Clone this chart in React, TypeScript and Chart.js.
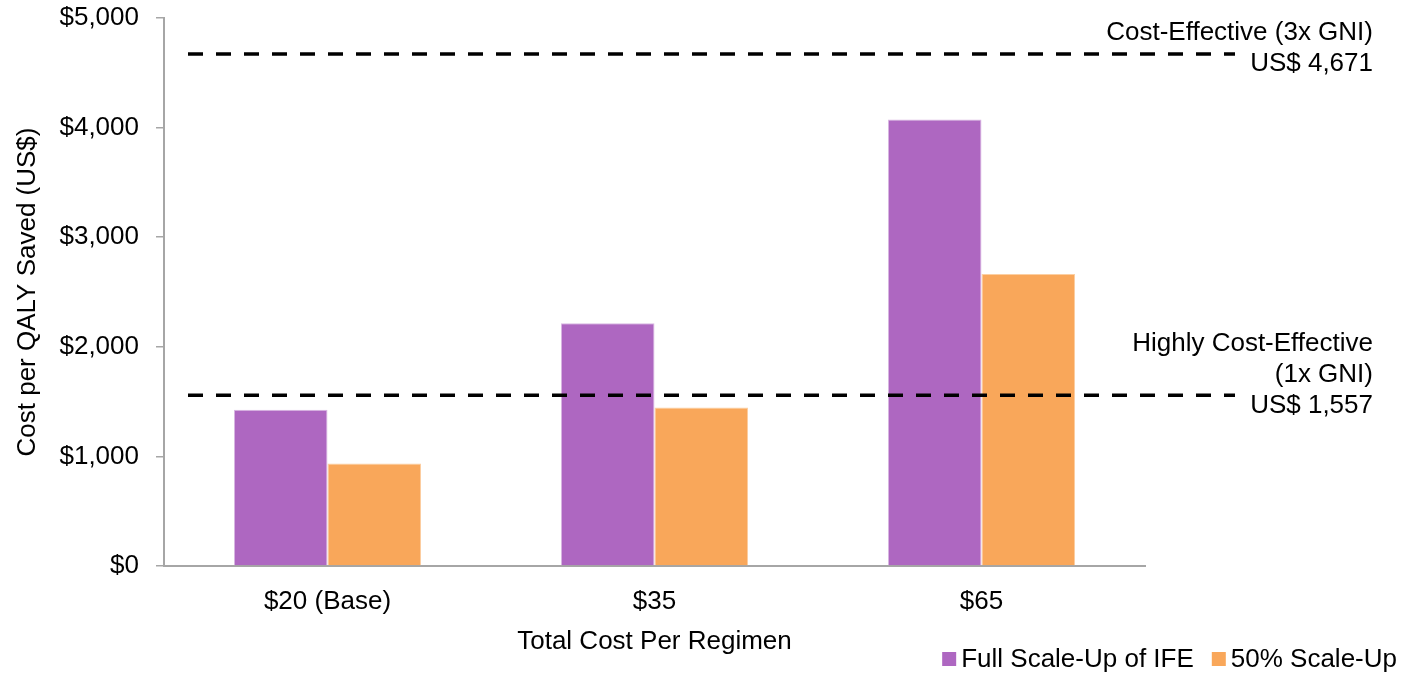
import { useEffect, useRef } from "react";
import { Chart, registerables } from "chart.js";

Chart.register(...registerables);

// Cost per QALY saved by regimen cost, for two scale-up scenarios
const categories = ["$20 (Base)", "$35", "$65"];
const seriesNames = ["Full Scale-Up of IFE", "50% Scale-Up"];
const fullScaleUp = [1425, 2215, 4075];
const halfScaleUp = [935, 1447, 2665];

// Willingness-to-pay thresholds (GNI multiples)
const thresholdValues = [4671, 1557];
const thresholdLabels = [
  ["Cost-Effective (3x GNI)", "US$ 4,671"],
  ["Highly Cost-Effective", "(1x GNI)", "US$ 1,557"],
];

const yMin = 0;
const yMax = 5000;
const yStep = 1000;

const FONT_FAMILY = '"Liberation Sans", Arial, Helvetica, sans-serif';
const FONT_SIZE = 26;
const AXIS_GRAY = "#A6A6A6";
const PURPLE = "#AE67C1";
const ORANGE = "#F9A75A";

const formatDollars = (v: number) => "$" + Number(v).toLocaleString("en-US");

// Dashed threshold lines with right-aligned stacked captions
const thresholdPlugin = {
  id: "thresholdLines",
  afterDatasetsDraw(chart: any) {
    const { ctx, chartArea, scales } = chart;
    const yScale = scales.y;
    ctx.save();
    thresholdValues.forEach((value, i) => {
      const y = yScale.getPixelForValue(value);
      ctx.beginPath();
      ctx.setLineDash([15, 13]);
      ctx.lineWidth = 3.5;
      ctx.strokeStyle = "#000";
      ctx.moveTo(chartArea.left + 24, y);
      ctx.lineTo(chartArea.right + 90, y);
      ctx.stroke();
      ctx.setLineDash([]);

      const lines = thresholdLabels[i];
      ctx.font = `${FONT_SIZE}px ${FONT_FAMILY}`;
      ctx.fillStyle = "#000";
      ctx.textAlign = "right";
      ctx.textBaseline = "middle";
      const xText = chartArea.right + 228;
      const lastY = y + 10;
      lines.forEach((line, j) => {
        const offset = (lines.length - 1 - j) * 31;
        ctx.fillText(line, xText, lastY - offset);
      });
    });
    ctx.restore();
  },
};

// Legend drawn in the bottom-right corner from the dataset labels/colours
const cornerLegendPlugin = {
  id: "cornerLegend",
  afterDraw(chart: any) {
    const { ctx } = chart;
    const datasets = chart.data.datasets;
    const box = 14;
    const boxGap = 5;
    const itemGap = 18;
    const rightEdge = 1397;
    const centerY = 659;
    ctx.save();
    ctx.font = `${FONT_SIZE}px ${FONT_FAMILY}`;
    ctx.textBaseline = "middle";
    ctx.textAlign = "left";
    const widths = datasets.map((d: any) => ctx.measureText(d.label).width);
    let total = 0;
    widths.forEach((w: number, i: number) => {
      total += box + boxGap + w + (i > 0 ? itemGap : 0);
    });
    let x = rightEdge - total;
    datasets.forEach((d: any, i: number) => {
      if (i > 0) x += itemGap;
      ctx.fillStyle = d.backgroundColor;
      ctx.fillRect(x, centerY - box / 2, box, box);
      x += box + boxGap;
      ctx.fillStyle = "#000";
      ctx.fillText(d.label, x, centerY + 1);
      x += widths[i];
    });
    ctx.restore();
  },
};

export default function App() {
  const canvasRef = useRef<HTMLCanvasElement | null>(null);

  useEffect(() => {
    if (!canvasRef.current) return;
    const font = { family: FONT_FAMILY, size: FONT_SIZE };
    const chart = new Chart(canvasRef.current, {
      type: "bar",
      data: {
        labels: categories,
        datasets: [
          {
            label: seriesNames[0],
            data: fullScaleUp,
            backgroundColor: PURPLE,
            borderColor: "#D9B8E2",
            borderWidth: 1,
            categoryPercentage: 0.572,
            barPercentage: 1.0,
          },
          {
            label: seriesNames[1],
            data: halfScaleUp,
            backgroundColor: ORANGE,
            borderColor: "#FCCFA2",
            borderWidth: 1,
            categoryPercentage: 0.572,
            barPercentage: 1.0,
          },
        ],
      },
      options: {
        animation: false,
        responsive: false,
        devicePixelRatio: 1,
        layout: { padding: { top: 18, right: 268, bottom: 0, left: 0 } },
        plugins: {
          legend: { display: false },
          tooltip: { enabled: false },
        },
        scales: {
          x: {
            type: "category",
            grid: { display: false },
            border: { display: true, color: AXIS_GRAY, width: 2 },
            ticks: { font, color: "#000", padding: 12, maxRotation: 0 },
            title: {
              display: true,
              text: "Total Cost Per Regimen",
              font,
              color: "#000",
              padding: { top: 0, bottom: 20 },
            },
            afterFit: (scale: any) => {
              scale.height = 111;
              scale.paddingLeft = 0;
              scale.paddingRight = 0;
            },
          },
          y: {
            min: yMin,
            max: yMax,
            grid: {
              display: true,
              drawOnChartArea: false,
              drawTicks: true,
              tickLength: 8,
              color: AXIS_GRAY,
              lineWidth: 1.5,
            },
            border: { display: true, color: AXIS_GRAY, width: 2 },
            ticks: {
              stepSize: yStep,
              font,
              color: "#000",
              padding: 17,
              callback: (v: any) => formatDollars(v),
            },
            title: {
              display: true,
              text: "Cost per QALY Saved (US$)",
              font,
              color: "#000",
              padding: { top: 12, bottom: 0 },
            },
            afterFit: (scale: any) => {
              scale.width = 164;
              scale.paddingTop = 0;
              scale.paddingBottom = 0;
            },
          },
        },
      },
      plugins: [thresholdPlugin, cornerLegendPlugin],
    } as any);
    return () => chart.destroy();
  }, []);

  return (
    <div
      style={{
        position: "absolute",
        left: 0,
        top: 0,
        width: 1413,
        height: 677,
        background: "#fff",
      }}
    >
      <canvas ref={canvasRef} width={1413} height={677} />
    </div>
  );
}
